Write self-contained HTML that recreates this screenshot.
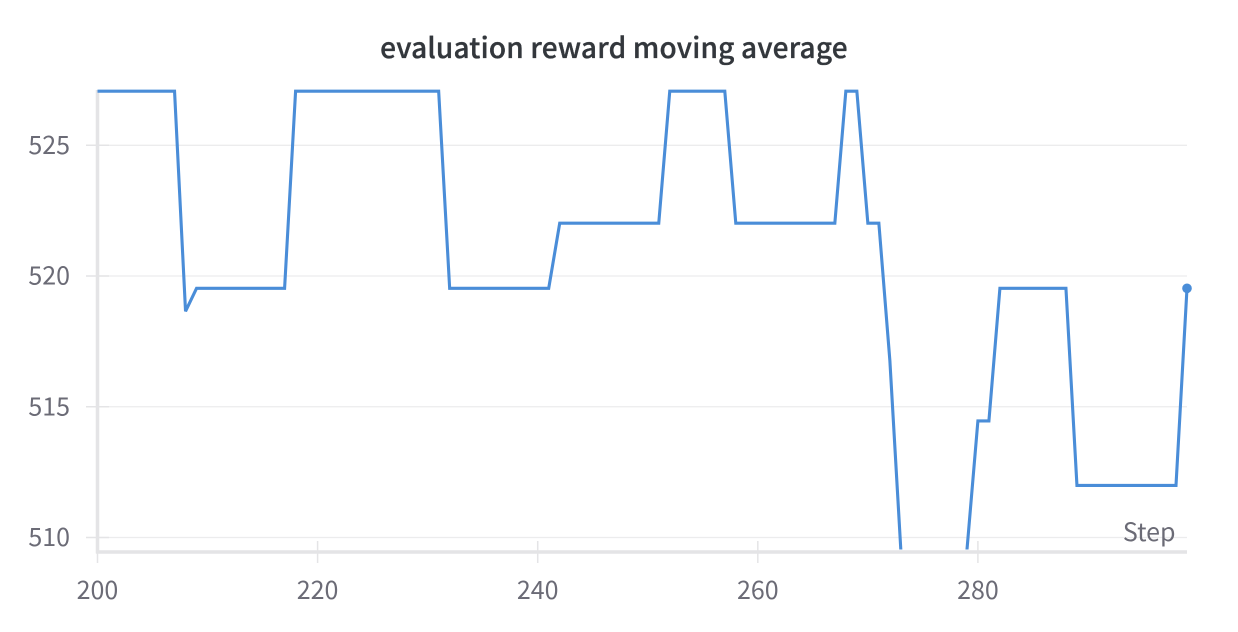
<!DOCTYPE html>
<html>
<head>
<meta charset="utf-8">
<title>evaluation reward moving average</title>
<style>
html,body{margin:0;padding:0;background:#fff;}
body{width:1238px;height:632px;overflow:hidden;}
svg{display:block;font-family:"Noto Sans CJK JP","Liberation Sans",sans-serif;}
</style>
</head>
<body>
<svg id="chart" width="1238" height="632" viewBox="0 0 1238 632" xmlns="http://www.w3.org/2000/svg">
  <defs>
    <clipPath id="plot-clip"><rect x="90" y="80" width="1110" height="469.5"></rect></clipPath>
  </defs>
  <rect x="0" y="0" width="1238" height="632" fill="#ffffff"></rect>
  <text id="title" x="614" y="58" text-anchor="middle" font-size="28" font-weight="500" letter-spacing="0.2" stroke="#33373c" stroke-width="0.35" fill="#33373c">evaluation reward moving average</text>
  <g id="grid"></g>
  <g id="axes"></g>
  <g id="series"></g>
  <text x="1175.5" y="541" text-anchor="end" font-size="25" fill="#6b6b76">Step</text>
</svg>
<script>
const steps = [200,207,208,209,217,218,231,232,241,242,251,252,257,258,267,268,269,270,271,272,273,274,278,279,280,281,282,288,289,298,299];
const rewards = [527.07,527.07,518.65,519.53,519.53,527.07,527.07,519.53,519.53,522.02,522.02,527.07,527.07,522.02,522.02,527.07,527.07,522.02,522.02,516.77,509.5,507,507,509.5,514.46,514.46,519.53,519.53,511.99,511.99,519.53];
const xTicks = [200,220,240,260,280];
const yTicks = [510,515,520,525];

const NS = 'http://www.w3.org/2000/svg';
function xScale(step){ return 97.5 + (step - 200) * (1187 - 97.5) / 99; }
function yScale(value){ return 537.5 - (value - 510) * (537.5 - 145.3) / 15; }

function make(tag, attrs, parent){
  const el = document.createElementNS(NS, tag);
  Object.keys(attrs).forEach(function(k){ el.setAttribute(k, attrs[k]); });
  parent.appendChild(el);
  return el;
}

const grid = document.getElementById('grid');
const axes = document.getElementById('axes');
const series = document.getElementById('series');
const axisColor = '#e4e4e6';
const gridColor = '#ececed';
const labelColor = '#6b6b76';

yTicks.forEach(function(v){
  const y = yScale(v);
  const g = make('line', {x1:97.5, x2:1187, y1:y, y2:y, stroke:gridColor, 'stroke-width':1.3}, grid);
  
  
  const t = make('line', {x1:86, x2:109, y1:y, y2:y, stroke:axisColor, 'stroke-width':1.5}, axes);
  
  
  const l = make('text', {x:70, y:y + 8.5, 'text-anchor':'end', 'font-size':25, fill:labelColor}, axes);
  
  
  l.textContent = String(v);
});

const yAxis = make('line', {x1:97.5, x2:97.5, y1:90, y2:553.5, stroke:axisColor, 'stroke-width':3.5}, axes);


const xAxis = make('line', {x1:96, x2:1187, y1:552, y2:552, stroke:axisColor, 'stroke-width':3.5}, axes);



xTicks.forEach(function(s){
  const x = xScale(s);
  const t = make('line', {x1:x, x2:x, y1:541, y2:563, stroke:axisColor, 'stroke-width':1.5}, axes);
  
  
  const l = make('text', {x:x, y:599, 'text-anchor':'middle', 'font-size':25, fill:labelColor}, axes);
  
  
  l.textContent = String(s);
});

const points = steps.map(function(s, i){ return xScale(s).toFixed(2) + ',' + yScale(rewards[i]).toFixed(2); }).join(' ');
const line = make('polyline', {points:points, fill:'none', stroke:'#4a8dd8', 'stroke-width':3.1, 'stroke-linejoin':'miter', 'clip-path':'url(#plot-clip)'}, series);



const lastIndex = steps.length - 1;
const dot = make('circle', {cx:xScale(steps[lastIndex]), cy:yScale(rewards[lastIndex]), r:4.8, fill:'#4a8dd8'}, series);


</script>
</body>
</html>
